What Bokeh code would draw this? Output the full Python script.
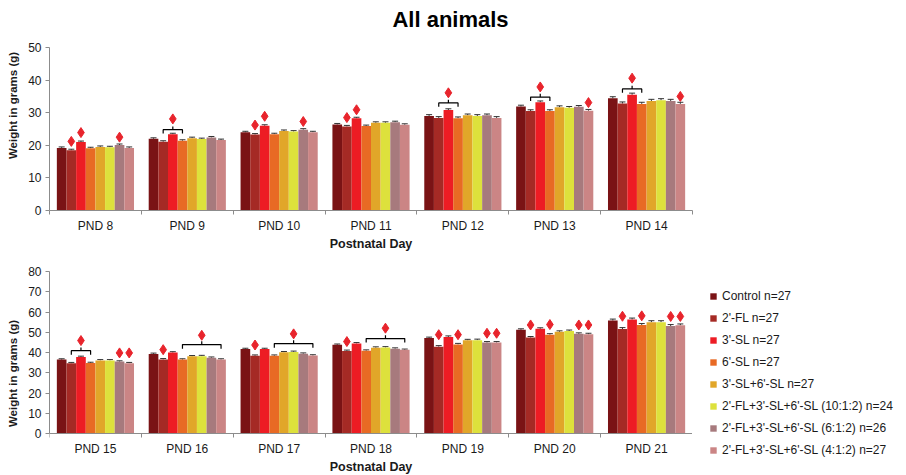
from bokeh.plotting import figure
from bokeh.models import (Range1d, FixedTicker, ColumnDataSource, Legend, LegendItem,
                          Label, Whisker, TeeHead)
from bokeh.layouts import column, row
from bokeh.embed import file_html
from bokeh.resources import INLINE

series = ["Control n=27", "2'-FL n=27", "3'-SL n=27", "6'-SL n=27", "3'-SL+6'-SL n=27",
          "2'-FL+3'-SL+6'-SL (10:1:2) n=24", "2'-FL+3'-SL+6'-SL (6:1:2) n=26",
          "2'-FL+3'-SL+6'-SL (4:1:2) n=27"]
colors = ["#7A1315", "#A52A25", "#ED1C24", "#E86A24", "#E1A629", "#DDE13C", "#A77A7D", "#CB8585"]

days_top = ["PND 8", "PND 9", "PND 10", "PND 11", "PND 12", "PND 13", "PND 14"]
days_bot = ["PND 15", "PND 16", "PND 17", "PND 18", "PND 19", "PND 20", "PND 21"]

# mean weights (g), one list per day, in series order
pnd8 = [19.2, 18.5, 21.0, 19.1, 19.5, 19.4, 20.1, 19.2]
pnd9 = [22.0, 21.1, 23.4, 21.4, 22.2, 21.9, 22.4, 21.6]
pnd10 = [24.0, 23.3, 26.0, 23.4, 24.4, 24.2, 24.8, 24.0]
pnd11 = [26.4, 25.8, 28.3, 25.9, 26.9, 26.9, 27.1, 26.3]
pnd12 = [29.0, 28.4, 30.8, 28.3, 29.2, 29.0, 29.2, 28.4]
pnd13 = [31.9, 30.5, 33.2, 30.5, 31.7, 31.5, 31.8, 30.6]
pnd14 = [34.4, 32.8, 35.5, 32.7, 33.6, 33.8, 33.6, 32.7]
pnd15 = [36.5, 34.7, 37.8, 34.8, 36.1, 36.1, 35.5, 34.7]
pnd16 = [39.3, 36.6, 40.0, 36.5, 38.1, 38.2, 37.4, 36.5]
pnd17 = [41.7, 38.4, 41.7, 38.4, 40.1, 40.3, 39.4, 38.5]
pnd18 = [43.8, 40.8, 44.5, 40.9, 42.4, 42.5, 41.9, 41.3]
pnd19 = [47.1, 42.9, 47.7, 44.0, 46.0, 46.1, 44.9, 44.9]
pnd20 = [51.2, 47.4, 51.7, 48.8, 50.2, 50.6, 49.2, 49.0]
pnd21 = [55.8, 51.6, 56.3, 53.6, 55.0, 55.0, 53.1, 53.4]

# standard errors (g), per day
sem_top = [0.3, 0.3, 0.3, 0.3, 0.4, 0.4, 0.5]
sem_bot = [0.4, 0.4, 0.4, 0.4, 0.5, 0.5, 0.7]

# significance markers: (day index, series index, y)
marks_top = [(0, 1, 21.2), (0, 2, 23.9), (0, 6, 22.5), (1, 2, 28.1), (2, 1, 26.2), (2, 2, 28.9),
             (2, 6, 27.3), (3, 1, 28.5), (3, 2, 30.9), (4, 2, 36.1), (5, 2, 37.9), (5, 7, 33.1),
             (6, 2, 40.6), (6, 7, 35.0)]
marks_bot = [(0, 2, 45.9), (0, 6, 39.8), (0, 7, 39.8), (1, 1, 41.4), (1, 5, 48.5), (2, 1, 43.7),
             (2, 5, 49.2), (3, 1, 45.4), (3, 5, 52.0), (4, 1, 48.8), (4, 3, 48.8), (4, 6, 49.5),
             (4, 7, 49.5), (5, 1, 53.6), (5, 3, 53.8), (5, 6, 53.6), (5, 7, 53.6), (6, 1, 57.9),
             (6, 3, 58.1), (6, 6, 57.8), (6, 7, 57.8)]
# brackets: (day index, first series, last series, y)
brackets_top = [(1, 1, 3, 24.8), (4, 1, 3, 33.0), (5, 1, 3, 34.8), (6, 1, 3, 37.3)]
brackets_bot = [(0, 1, 3, 40.9), (1, 3, 7, 43.9), (2, 3, 7, 44.4), (3, 3, 7, 46.9)]

BW = 0.105
FONT = "Liberation Sans"
RED = "#E8242C"
AXIS_GRAY = "#8C8C8C"
TXT = "#1A1A1A"


def xpos(d, k):
    return d - 0.5 + (1 - 8 * BW) / 2 + BW * (k + 0.5)


def make_fig(days, data, sem, marks, brackets, ymax, yrange, width, height, mb_top, mb_bottom,
             mb_right, leg_unit, tick_unit, fixed_x=False):
    p = figure(width=width, height=height, output_backend="svg", toolbar_location=None,
               x_range=Range1d(-0.5, 6.5), y_range=Range1d(*yrange),
               min_border_left=49, min_border_right=mb_right, min_border_top=mb_top,
               min_border_bottom=mb_bottom)
    p.outline_line_color = None
    p.xgrid.grid_line_color = None
    p.ygrid.grid_line_color = None
    p.background_fill_color = "white"
    p.border_fill_color = "white"

    for k in range(8):
        xs = [xpos(d, k) for d in range(7)]
        tops = [data[d][k] for d in range(7)]
        src = ColumnDataSource(dict(x=xs, top=tops, up=[tops[d] + sem[d] for d in range(7)]))
        p.vbar(x="x", top="top", bottom=0, width=BW, source=src,
               fill_color=colors[k], line_color=None)
        w = Whisker(base="x", lower="top", upper="up", source=src, line_color="#333333",
                    line_width=1, lower_head=None,
                    upper_head=TeeHead(size=6, line_color="#333333", line_width=1))
        p.add_layout(w)

    # brackets
    bxs, bys = [], []
    for d, k0, k1, y in brackets:
        x0, x1 = xpos(d, k0), xpos(d, k1)
        xm = (x0 + x1) / 2
        bxs.append([x0, x0, x1, x1])
        bys.append([y - leg_unit, y, y, y - leg_unit])
        bxs.append([xm, xm])
        bys.append([y, y + tick_unit])
    p.multi_line(bxs, bys, line_color="black", line_width=1.2)

    mx = [xpos(d, k) for d, k, y in marks]
    my = [y for d, k, y in marks]
    p.scatter(mx, my, marker="diamond", size=10, fill_color=RED, line_color=RED)

    # axes
    xa = p.xaxis[0]
    if fixed_x:
        xa.fixed_location = 0
    xa.bounds = (-0.5, 6.5)
    xa.ticker = FixedTicker(ticks=list(range(7)), minor_ticks=[i - 0.5 for i in range(8)])
    xa.major_label_overrides = {i: days[i] for i in range(7)}
    xa.major_tick_line_color = None
    xa.major_tick_out = 4
    xa.major_tick_in = 0
    xa.minor_tick_line_color = AXIS_GRAY
    xa.minor_tick_out = 4
    xa.minor_tick_in = 0
    xa.axis_line_color = AXIS_GRAY
    xa.major_label_text_font = FONT
    xa.major_label_text_font_size = "12px"
    xa.major_label_text_color = TXT
    xa.major_label_standoff = 4
    xa.axis_label = "Postnatal Day"
    xa.axis_label_text_font = FONT
    xa.axis_label_text_font_style = "bold"
    xa.axis_label_text_font_size = "12.5px"
    xa.axis_label_text_color = TXT
    xa.axis_label_standoff = 1

    ya = p.yaxis[0]
    ya.ticker = FixedTicker(ticks=list(range(0, ymax + 1, 10)))
    ya.bounds = (0, ymax)
    ya.minor_tick_line_color = None
    ya.major_tick_out = 4
    ya.major_tick_in = 0
    ya.major_tick_line_color = AXIS_GRAY
    ya.axis_line_color = AXIS_GRAY
    ya.major_label_text_font = FONT
    ya.major_label_text_font_size = "12px"
    ya.major_label_text_color = TXT
    ya.major_label_standoff = 4
    ya.axis_label = "Weight in grams (g)"
    ya.axis_label_text_font = FONT
    ya.axis_label_text_font_style = "bold"
    ya.axis_label_text_font_size = "11.5px"
    ya.axis_label_text_color = TXT
    ya.axis_label_standoff = 6
    return p


top_data = [pnd8, pnd9, pnd10, pnd11, pnd12, pnd13, pnd14]
bot_data = [pnd15, pnd16, pnd17, pnd18, pnd19, pnd20, pnd21]

# top chart: frame spans from the very top of the canvas (room for the title),
# the 0..50 axis occupies its lower 163 px
p1 = make_fig(days_top, top_data, sem_top, marks_top, brackets_top,
              50, (0, 50 * 210 / 163), 906, 258, 0, 48, 214, 1.2, 1.0)
# bottom chart: frame runs to the canvas bottom, x axis pinned at y = 0
# (0..80 occupies the upper 162 px of the 204 px frame)
p2 = make_fig(days_bot, bot_data, sem_bot, marks_bot, brackets_bot,
              80, (-80 * 42 / 162, 80), 692, 217, 13, 0, 0, 2.0, 1.6, fixed_x=True)

title = Label(x=401, y=191, x_units="screen", y_units="screen", text="All animals",
              text_font=FONT, text_font_style="bold", text_font_size="22px",
              text_align="center", text_baseline="middle", text_color="black")
p1.add_layout(title)

# legend panel to the right of the lower chart
pl = figure(width=214, height=217, output_backend="svg", toolbar_location=None,
            x_range=Range1d(0, 1), y_range=Range1d(0, 1),
            min_border_left=0, min_border_right=0, min_border_top=13, min_border_bottom=0)
pl.axis.visible = False
pl.grid.visible = False
pl.outline_line_color = None
pl.background_fill_color = "white"
pl.border_fill_color = "white"
items = []
for k in range(8):
    # legend swatch source (kept outside the visible range)
    r = pl.scatter(x=[-5], y=[-5], marker="square", size=7, fill_color=colors[k],
                   line_color=None)
    items.append(LegendItem(label=series[k], renderers=[r]))

legend = Legend(items=items, location=(13, 16), orientation="vertical")
legend.border_line_color = None
legend.background_fill_alpha = 0
legend.padding = 0
legend.margin = 0
legend.glyph_width = 16
legend.glyph_height = 18
legend.label_height = 14
legend.spacing = 4
legend.label_standoff = 1
legend.label_text_font = FONT
legend.label_text_font_size = "12px"
legend.label_text_color = TXT
pl.add_layout(legend, "center")

layout = column(p1, row(p2, pl, spacing=0), spacing=0)
open("out.html", "w").write(file_html(layout, INLINE))
